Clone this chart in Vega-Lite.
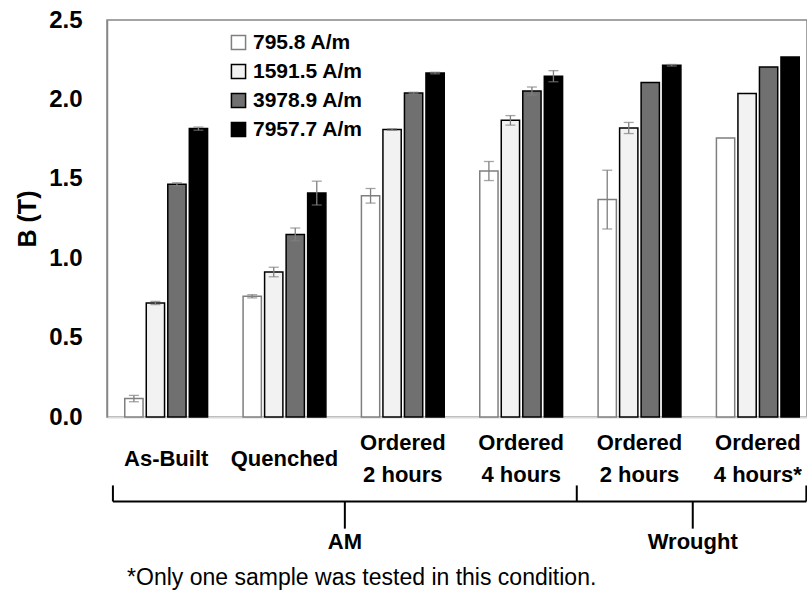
{
  "$schema": "https://vega.github.io/schema/vega-lite/v6.json",
  "width": 700,
  "height": 397,
  "autosize": {"type": "none"},
  "padding": {"left": 107, "top": 20, "right": 0, "bottom": 177},
  "background": "white",
  "config": {
    "view": {"stroke": "#868686", "strokeWidth": 1.5},
    "font": "Liberation Sans",
    "legend": {
      "orient": "none",
      "legendX": 121,
      "legendY": 12,
      "padding": 0,
      "symbolType": "square",
      "symbolSize": 200,
      "symbolStrokeWidth": 1.5,
      "labelFont": "Liberation Sans",
      "labelFontSize": 21,
      "labelFontWeight": "bold",
      "labelColor": "#000000",
      "labelOffset": 4,
      "rowPadding": 7,
      "labelLimit": 0
    }
  },
  "resolve": {"scale": {"x": "independent"}},
  "layer": [
    {
      "data": {
        "values": [
          {"cat": "AM|As-Built", "series": "795.8 A/m", "b": 0.116, "err": 0.02},
          {"cat": "AM|As-Built", "series": "1591.5 A/m", "b": 0.718, "err": 0.01},
          {"cat": "AM|As-Built", "series": "3978.9 A/m", "b": 1.465, "err": 0.01},
          {"cat": "AM|As-Built", "series": "7957.7 A/m", "b": 1.816, "err": 0.01},
          {"cat": "AM|Quenched", "series": "795.8 A/m", "b": 0.76, "err": 0.01},
          {"cat": "AM|Quenched", "series": "1591.5 A/m", "b": 0.913, "err": 0.03},
          {"cat": "AM|Quenched", "series": "3978.9 A/m", "b": 1.15, "err": 0.04},
          {"cat": "AM|Quenched", "series": "7957.7 A/m", "b": 1.41, "err": 0.075},
          {"cat": "AM|Ordered|2 hours", "series": "795.8 A/m", "b": 1.393, "err": 0.046},
          {"cat": "AM|Ordered|2 hours", "series": "1591.5 A/m", "b": 1.81, "err": 0.005},
          {"cat": "AM|Ordered|2 hours", "series": "3978.9 A/m", "b": 2.04, "err": 0.005},
          {"cat": "AM|Ordered|2 hours", "series": "7957.7 A/m", "b": 2.166, "err": 0.005},
          {"cat": "AM|Ordered|4 hours", "series": "795.8 A/m", "b": 1.549, "err": 0.06},
          {"cat": "AM|Ordered|4 hours", "series": "1591.5 A/m", "b": 1.868, "err": 0.03},
          {"cat": "AM|Ordered|4 hours", "series": "3978.9 A/m", "b": 2.053, "err": 0.025},
          {"cat": "AM|Ordered|4 hours", "series": "7957.7 A/m", "b": 2.146, "err": 0.035},
          {"cat": "Wrought|Ordered|2 hours", "series": "795.8 A/m", "b": 1.369, "err": 0.185},
          {"cat": "Wrought|Ordered|2 hours", "series": "1591.5 A/m", "b": 1.82, "err": 0.035},
          {"cat": "Wrought|Ordered|2 hours", "series": "3978.9 A/m", "b": 2.106, "err": 0},
          {"cat": "Wrought|Ordered|2 hours", "series": "7957.7 A/m", "b": 2.215, "err": 0.005},
          {"cat": "Wrought|Ordered|4 hours*", "series": "795.8 A/m", "b": 1.757, "err": 0},
          {"cat": "Wrought|Ordered|4 hours*", "series": "1591.5 A/m", "b": 2.037, "err": 0},
          {"cat": "Wrought|Ordered|4 hours*", "series": "3978.9 A/m", "b": 2.204, "err": 0},
          {"cat": "Wrought|Ordered|4 hours*", "series": "7957.7 A/m", "b": 2.267, "err": 0}
        ]
      },
      "encoding": {
        "x": {
          "field": "cat",
          "type": "nominal",
          "sort": null,
          "scale": {
            "domain": ["AM|As-Built", "AM|Quenched", "AM|Ordered|2 hours", "AM|Ordered|4 hours", "Wrought|Ordered|2 hours", "Wrought|Ordered|4 hours*"],
            "range": [0, 710],
            "paddingInner": 0.3,
            "paddingOuter": 0.15
          },
          "axis": {
            "orient": "bottom",
            "title": null,
            "labelExpr": "slice(split(datum.value, '|'), 1)",
            "labelAngle": 0,
            "labelFont": "Liberation Sans",
            "labelFontSize": 22,
            "labelFontWeight": "bold",
            "labelColor": "#000000",
            "labelLineHeight": 32,
            "labelBaseline": "middle",
            "labelPadding": {"condition": {"test": "indexof(datum.value, 'Ordered') >= 0", "value": 25}, "value": 41},
            "labelOverlap": false,
            "labelLimit": 0,
            "ticks": false,
            "grid": false,
            "domainColor": "#d9d9d9",
            "domainWidth": 2
          }
        },
        "xOffset": {
          "field": "series",
          "type": "nominal",
          "scale": {
            "domain": ["795.8 A/m", "1591.5 A/m", "3978.9 A/m", "7957.7 A/m"],
            "paddingInner": 0.15,
            "paddingOuter": 0
          }
        },
        "y": {
          "field": "b",
          "type": "quantitative",
          "title": "B (T)",
          "scale": {"domain": [0, 2.5], "nice": false},
          "axis": {
            "values": [0, 0.5, 1, 1.5, 2, 2.5],
            "format": ".1f",
            "labelFont": "Liberation Sans",
            "labelFontSize": 24,
            "labelFontWeight": "bold",
            "labelColor": "#000000",
            "labelPadding": 25,
            "ticks": false,
            "grid": false,
            "domain": true,
            "domainColor": "#868686",
            "domainWidth": 1.5,
            "titleFont": "Liberation Sans",
            "titleFontSize": 25,
            "titleFontWeight": "bold",
            "titleColor": "#000000",
            "titlePadding": 8
          }
        }
      },
      "layer": [
        {
          "mark": {"type": "bar", "strokeWidth": 1.5},
          "encoding": {
            "fill": {
              "field": "series",
              "type": "nominal",
              "title": null,
              "scale": {
                "domain": ["795.8 A/m", "1591.5 A/m", "3978.9 A/m", "7957.7 A/m"],
                "range": ["#ffffff", "#f2f2f2", "#707070", "#000000"]
              }
            },
            "stroke": {
              "field": "series",
              "type": "nominal",
              "title": null,
              "scale": {
                "domain": ["795.8 A/m", "1591.5 A/m", "3978.9 A/m", "7957.7 A/m"],
                "range": ["#7f7f7f", "#000000", "#000000", "#000000"]
              }
            }
          }
        },
        {
          "transform": [{"filter": "datum.err > 0"}],
          "mark": {
            "type": "errorbar",
            "ticks": {"size": 10, "color": "#7f7f7f", "thickness": 1.3},
            "rule": {"color": "#7f7f7f", "strokeWidth": 1.3}
          },
          "encoding": {
            "yError": {"field": "err"}
          }
        }
      ]
    },
    {
      "data": {
        "values": [
          {"x": 0.05, "x2": 0.05, "y": -0.431, "y2": -0.532},
          {"x": 0.05, "x2": 5.91, "y": -0.532, "y2": -0.532},
          {"x": 3.97, "x2": 3.97, "y": -0.431, "y2": -0.532},
          {"x": 5.91, "x2": 5.91, "y": -0.431, "y2": -0.532},
          {"x": 2.01, "x2": 2.01, "y": -0.532, "y2": -0.703},
          {"x": 4.95, "x2": 4.95, "y": -0.532, "y2": -0.703}
        ]
      },
      "mark": {"type": "rule", "color": "#000000", "strokeWidth": 2},
      "encoding": {
        "x": {
          "field": "x",
          "type": "quantitative",
          "scale": {"domain": [0, 6], "range": [0, 710], "nice": false, "zero": false},
          "axis": null
        },
        "x2": {"field": "x2"},
        "y": {"field": "y", "type": "quantitative", "title": "B (T)", "scale": {"domain": [0, 2.5], "nice": false}},
        "y2": {"field": "y2"}
      }
    },
    {
      "data": {
        "values": [
          {"x": 2.01, "y": -0.789, "label": "AM"},
          {"x": 4.95, "y": -0.789, "label": "Wrought"}
        ]
      },
      "mark": {"type": "text", "font": "Liberation Sans", "fontSize": 22, "fontWeight": "bold", "color": "#000000", "align": "center", "baseline": "middle"},
      "encoding": {
        "x": {"field": "x", "type": "quantitative", "scale": {"domain": [0, 6], "range": [0, 710], "nice": false, "zero": false}, "axis": null},
        "y": {"field": "y", "type": "quantitative", "title": "B (T)", "scale": {"domain": [0, 2.5], "nice": false}},
        "text": {"field": "label"}
      }
    },
    {
      "data": {
        "values": [
          {"x": 0.17, "y": -1.012, "label": "*Only one sample was tested in this condition."}
        ]
      },
      "mark": {"type": "text", "font": "Liberation Sans", "fontSize": 23, "fontWeight": "normal", "color": "#000000", "align": "left", "baseline": "middle"},
      "encoding": {
        "x": {"field": "x", "type": "quantitative", "scale": {"domain": [0, 6], "range": [0, 710], "nice": false, "zero": false}, "axis": null},
        "y": {"field": "y", "type": "quantitative", "title": "B (T)", "scale": {"domain": [0, 2.5], "nice": false}},
        "text": {"field": "label"}
      }
    }
  ]
}
